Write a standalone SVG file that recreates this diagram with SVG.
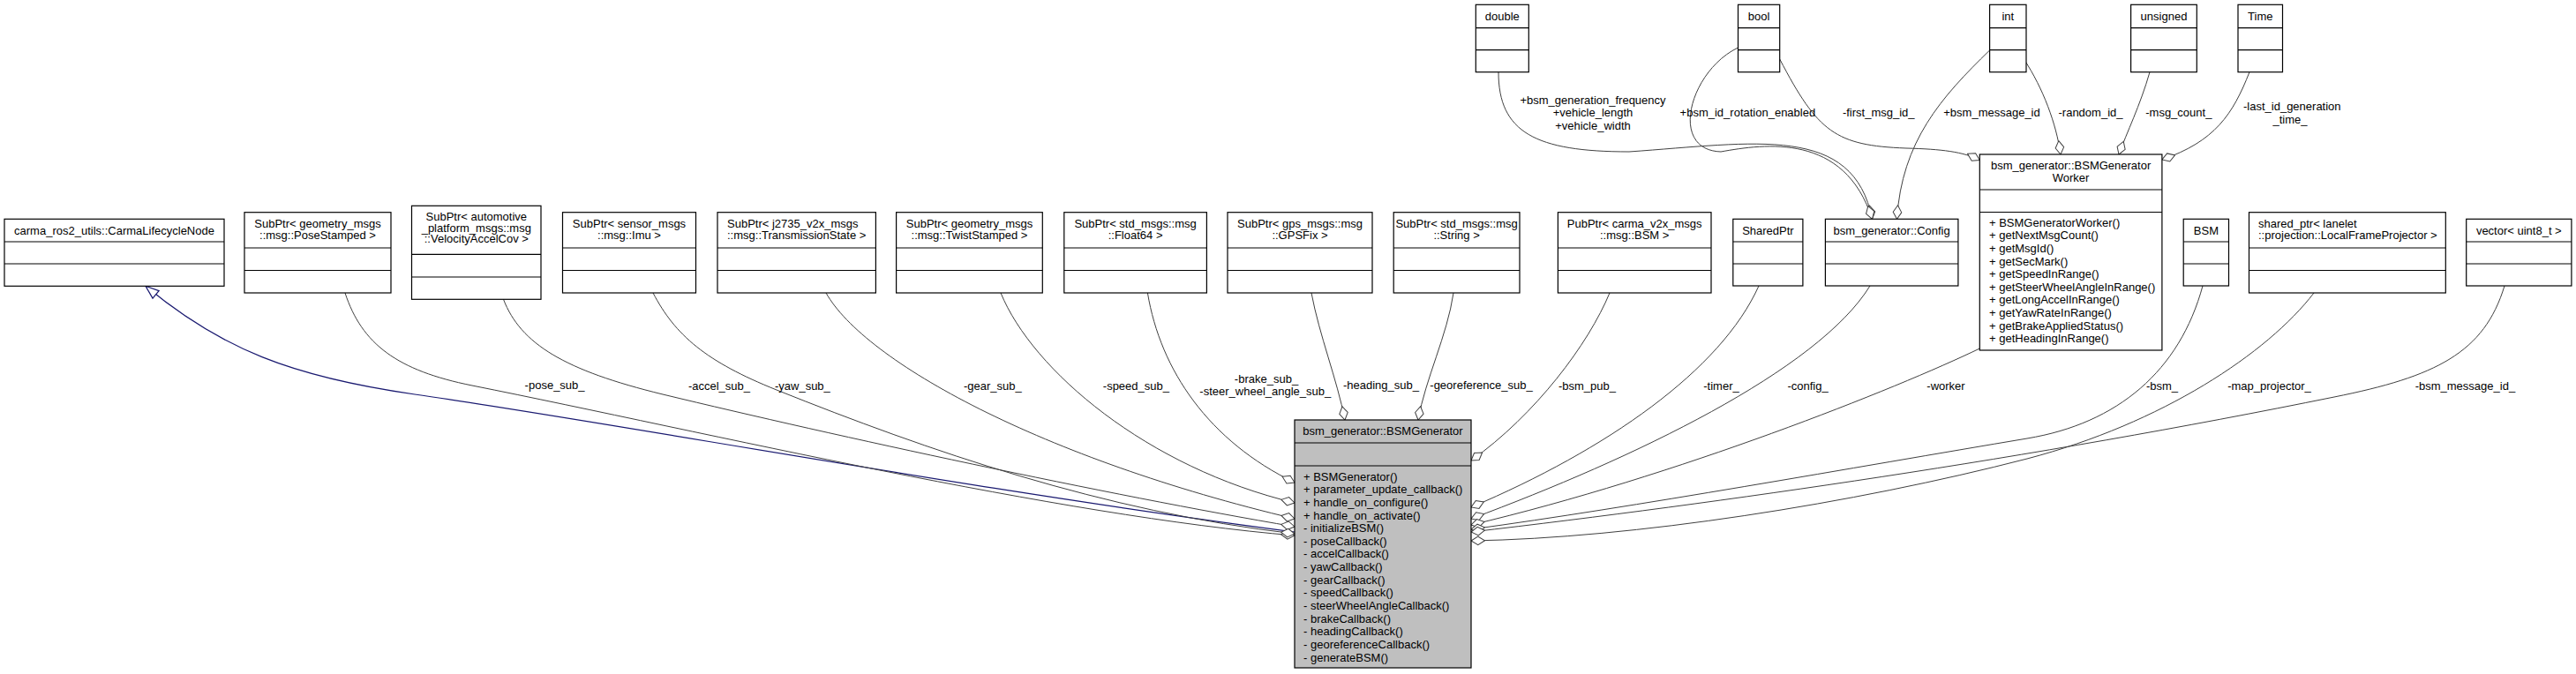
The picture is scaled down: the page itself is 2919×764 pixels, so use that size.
<svg xmlns="http://www.w3.org/2000/svg" width="2919" height="764" viewBox="0 0 2919 764">
<style>
.b{fill:#fff;stroke:#000;stroke-width:1.2}
.m{fill:#bfbfbf;stroke:#000;stroke-width:1.2}
.s{stroke:#000;stroke-width:1.2}
text{font-family:"Liberation Sans",Arial,Helvetica,sans-serif;font-size:13px;fill:#000}
.c{text-anchor:middle}
.e{fill:none;stroke:#404040;stroke-width:1;marker-end:url(#dia)}
.i{fill:none;stroke:#191970;stroke-width:1.2;marker-end:url(#tri)}
</style>
<defs>
<marker id="dia" markerUnits="userSpaceOnUse" markerWidth="18" markerHeight="12" viewBox="0 0 18 12" refX="16.5" refY="6" orient="auto">
<path d="M1,6 L8.75,1.2 L16.5,6 L8.75,10.8 Z" fill="#fff" stroke="#404040" stroke-width="1"/>
</marker>
<marker id="tri" markerUnits="userSpaceOnUse" markerWidth="18" markerHeight="14" viewBox="0 0 18 14" refX="16" refY="7" orient="auto">
<path d="M1,1.5 L16,7 L1,12.5 Z" fill="#fff" stroke="#191970" stroke-width="1.2"/>
</marker>
</defs>
<rect width="2919" height="764" fill="#fff"/>

<g id="connectors">
<path class="i" d="M1467 603 C1100 555,700 480,470 447 C330 427,250 395,165 324.3"/>
<path class="e" d="M391 332 C410 390,450 420,535 437 C800 490,1200 585,1467 607"/>
<path class="e" d="M570.5 339.3 C590 390,640 420,751 447 C950 495,1250 560,1467 597"/>
<path class="e" d="M740 332 C765 380,800 410,880 442 C1050 510,1250 580,1467 605"/>
<path class="e" d="M936 332 C980 410,1180 520,1467 588"/>
<path class="e" d="M1134 332 C1170 420,1300 530,1467 570"/>
<path class="e" d="M1300.4 332 C1315 420,1370 500,1467 547"/>
<path class="e" d="M1486 332 C1495 380,1515 430,1524 476"/>
<path class="e" d="M1647 332 C1640 380,1615 430,1607 476"/>
<path class="e" d="M1824 332 C1800 390,1740 470,1667 522"/>
<path class="e" d="M1993 324 C1950 420,1820 510,1667 575"/>
<path class="e" d="M2119 324 C2060 420,1850 520,1667 588"/>
<path class="e" d="M2243.3 395 C2150 440,1900 540,1667 595"/>
<path class="e" d="M2496 324 C2470 420,2400 480,2297 497 C2100 530,1850 575,1667 600"/>
<path class="e" d="M2622 332 C2570 400,2450 480,2297 520 C2100 571,1850 610,1667 613"/>
<path class="e" d="M2838 324 C2815 400,2760 427,2645 450 C2300 520,1950 570,1667 603"/>
<path class="e" d="M1698 81.7 C1698 150,1740 172,1846 172 C1990 162,2100 140,2121.5 248.3"/>
<path class="e" d="M1969.5 54 C1915 80,1890 170,1950 172 C2000 163,2090 150,2121.5 248.3"/>
<path class="e" d="M2016.7 67 C2060 150,2080 165,2160 168 C2200 169,2225 172,2243.3 181.5"/>
<path class="e" d="M2254.6 57 C2200 110,2155 160,2149.5 248.3"/>
<path class="e" d="M2294 68 C2315 100,2330 140,2335 175"/>
<path class="e" d="M2436 81.7 C2425 120,2410 150,2401 175"/>
<path class="e" d="M2549 81.7 C2530 130,2510 160,2449.9 181"/>
<text x="628.6" y="441.3" class="c">-pose_sub_</text>
<text x="815" y="441.5" class="c">-accel_sub_</text>
<text x="909.4" y="441.5" class="c">-yaw_sub_</text>
<text x="1124.8" y="441.5" class="c">-gear_sub_</text>
<text x="1287.4" y="441.5" class="c">-speed_sub_</text>
<text x="1435" y="433.5" class="c">-brake_sub_</text>
<text x="1433.8" y="447.8" class="c">-steer_wheel_angle_sub_</text>
<text x="1565" y="441.3" class="c">-heading_sub_</text>
<text x="1678.5" y="441.3" class="c">-georeference_sub_</text>
<text x="1798.5" y="441.8" class="c">-bsm_pub_</text>
<text x="1950.5" y="441.8" class="c">-timer_</text>
<text x="2048.5" y="441.8" class="c">-config_</text>
<text x="2205" y="441.8" class="c">-worker</text>
<text x="2450" y="441.8" class="c">-bsm_</text>
<text x="2571.5" y="441.8" class="c">-map_projector_</text>
<text x="2793.4" y="441.8" class="c">-bsm_message_id_</text>
<text x="1805" y="117.8" class="c">+bsm_generation_frequency</text>
<text x="1805" y="132.2" class="c">+vehicle_length</text>
<text x="1805" y="146.8" class="c">+vehicle_width</text>
<text x="1980.4" y="132.2" class="c">+bsm_id_rotation_enabled</text>
<text x="2128.7" y="132.2" class="c">-first_msg_id_</text>
<text x="2257" y="132.2" class="c">+bsm_message_id</text>
<text x="2369" y="132.2" class="c">-random_id_</text>
<text x="2468.8" y="132.2" class="c">-msg_count_</text>
<text x="2597.3" y="124.5" class="c">-last_id_generation</text>
<text x="2595" y="139.5" class="c">_time_</text>
</g>

<g id="main">
<rect class="m" x="1467" y="476" width="200" height="281"/>
<line class="s" x1="1467" y1="502" x2="1667" y2="502"/>
<line class="s" x1="1467" y1="528" x2="1667" y2="528"/>
<text x="1567" y="493" class="c">bsm_generator::BSMGenerator</text>
<text x="1477" y="544.6">+ BSMGenerator()</text>
<text x="1477" y="559.2">+ parameter_update_callback()</text>
<text x="1477" y="573.9">+ handle_on_configure()</text>
<text x="1477" y="588.5">+ handle_on_activate()</text>
<text x="1477" y="603.2">- initializeBSM()</text>
<text x="1477" y="617.8">- poseCallback()</text>
<text x="1477" y="632.4">- accelCallback()</text>
<text x="1477" y="647.1">- yawCallback()</text>
<text x="1477" y="661.7">- gearCallback()</text>
<text x="1477" y="676.4">- speedCallback()</text>
<text x="1477" y="691">- steerWheelAngleCallback()</text>
<text x="1477" y="705.6">- brakeCallback()</text>
<text x="1477" y="720.3">- headingCallback()</text>
<text x="1477" y="734.9">- georeferenceCallback()</text>
<text x="1477" y="749.6">- generateBSM()</text>
</g>

<g id="carma">
<rect class="b" x="5" y="248.3" width="249" height="76"/>
<line class="s" x1="5" y1="274" x2="254" y2="274"/>
<line class="s" x1="5" y1="299" x2="254" y2="299"/>
<text x="129.5" y="265.6" class="c">carma_ros2_utils::CarmaLifecycleNode</text>
</g>

<g id="pose">
<rect class="b" x="277" y="240.7" width="166" height="91.3"/>
<line class="s" x1="277" y1="281" x2="443" y2="281"/>
<line class="s" x1="277" y1="306.5" x2="443" y2="306.5"/>
<text x="360" y="258" class="c">SubPtr&lt; geometry_msgs</text>
<text x="360" y="270.5" class="c">::msg::PoseStamped &gt;</text>
</g>

<g id="velocity">
<rect class="b" x="466.5" y="233.3" width="146.5" height="106"/>
<line class="s" x1="466.5" y1="288.3" x2="613" y2="288.3"/>
<line class="s" x1="466.5" y1="314" x2="613" y2="314"/>
<text x="539.8" y="250.2" class="c">SubPtr&lt; automotive</text>
<text x="539.8" y="262.5" class="c">_platform_msgs::msg</text>
<text x="539.8" y="274.8" class="c">::VelocityAccelCov &gt;</text>
</g>

<g id="imu">
<rect class="b" x="637.5" y="240.7" width="151" height="91.3"/>
<line class="s" x1="637.5" y1="281" x2="788.5" y2="281"/>
<line class="s" x1="637.5" y1="306.5" x2="788.5" y2="306.5"/>
<text x="713" y="258" class="c">SubPtr&lt; sensor_msgs</text>
<text x="713" y="270.5" class="c">::msg::Imu &gt;</text>
</g>

<g id="transmission">
<rect class="b" x="813" y="240.7" width="179.4" height="91.3"/>
<line class="s" x1="813" y1="281" x2="992.4" y2="281"/>
<line class="s" x1="813" y1="306.5" x2="992.4" y2="306.5"/>
<text x="824" y="258">SubPtr&lt; j2735_v2x_msgs</text>
<text x="824" y="270.5">::msg::TransmissionState &gt;</text>
</g>

<g id="twist">
<rect class="b" x="1015.6" y="240.7" width="165.7" height="91.3"/>
<line class="s" x1="1015.6" y1="281" x2="1181.3" y2="281"/>
<line class="s" x1="1015.6" y1="306.5" x2="1181.3" y2="306.5"/>
<text x="1098.5" y="258" class="c">SubPtr&lt; geometry_msgs</text>
<text x="1098.5" y="270.5" class="c">::msg::TwistStamped &gt;</text>
</g>

<g id="float64">
<rect class="b" x="1205.8" y="240.7" width="161.6" height="91.3"/>
<line class="s" x1="1205.8" y1="281" x2="1367.4" y2="281"/>
<line class="s" x1="1205.8" y1="306.5" x2="1367.4" y2="306.5"/>
<text x="1286.6" y="258" class="c">SubPtr&lt; std_msgs::msg</text>
<text x="1286.6" y="270.5" class="c">::Float64 &gt;</text>
</g>

<g id="gpsfix">
<rect class="b" x="1391" y="240.7" width="164" height="91.3"/>
<line class="s" x1="1391" y1="281" x2="1555" y2="281"/>
<line class="s" x1="1391" y1="306.5" x2="1555" y2="306.5"/>
<text x="1473" y="258" class="c">SubPtr&lt; gps_msgs::msg</text>
<text x="1473" y="270.5" class="c">::GPSFix &gt;</text>
</g>

<g id="string">
<rect class="b" x="1579.2" y="240.7" width="142.8" height="91.3"/>
<line class="s" x1="1579.2" y1="281" x2="1722" y2="281"/>
<line class="s" x1="1579.2" y1="306.5" x2="1722" y2="306.5"/>
<text x="1650.6" y="258" class="c">SubPtr&lt; std_msgs::msg</text>
<text x="1650.6" y="270.5" class="c">::String &gt;</text>
</g>

<g id="pubbsm">
<rect class="b" x="1765.4" y="240.7" width="173.6" height="91.3"/>
<line class="s" x1="1765.4" y1="281" x2="1939" y2="281"/>
<line class="s" x1="1765.4" y1="306.5" x2="1939" y2="306.5"/>
<text x="1852.2" y="258" class="c">PubPtr&lt; carma_v2x_msgs</text>
<text x="1852.2" y="270.5" class="c">::msg::BSM &gt;</text>
</g>

<g id="sharedptr">
<rect class="b" x="1963.8" y="248.3" width="79.1" height="75.7"/>
<line class="s" x1="1963.8" y1="274" x2="2042.9" y2="274"/>
<line class="s" x1="1963.8" y1="299" x2="2042.9" y2="299"/>
<text x="2003.4" y="265.6" class="c">SharedPtr</text>
</g>

<g id="config">
<rect class="b" x="2068.4" y="248.3" width="150.5" height="75.7"/>
<line class="s" x1="2068.4" y1="274" x2="2218.9" y2="274"/>
<line class="s" x1="2068.4" y1="299" x2="2218.9" y2="299"/>
<text x="2143.6" y="265.6" class="c">bsm_generator::Config</text>
</g>

<g id="worker">
<rect class="b" x="2243.3" y="175" width="206.6" height="222"/>
<line class="s" x1="2243.3" y1="215" x2="2449.9" y2="215"/>
<line class="s" x1="2243.3" y1="240.5" x2="2449.9" y2="240.5"/>
<text x="2346.6" y="191.5" class="c">bsm_generator::BSMGenerator</text>
<text x="2346.6" y="206.2" class="c">Worker</text>
<text x="2254" y="256.8">+ BSMGeneratorWorker()</text>
<text x="2254" y="271.4">+ getNextMsgCount()</text>
<text x="2254" y="286">+ getMsgId()</text>
<text x="2254" y="300.6">+ getSecMark()</text>
<text x="2254" y="315.2">+ getSpeedInRange()</text>
<text x="2254" y="329.8">+ getSteerWheelAngleInRange()</text>
<text x="2254" y="344.4">+ getLongAccelInRange()</text>
<text x="2254" y="359">+ getYawRateInRange()</text>
<text x="2254" y="373.6">+ getBrakeAppliedStatus()</text>
<text x="2254" y="388.2">+ getHeadingInRange()</text>
</g>

<g id="bsm">
<rect class="b" x="2474.2" y="248.3" width="51.3" height="75.7"/>
<line class="s" x1="2474.2" y1="274" x2="2525.5" y2="274"/>
<line class="s" x1="2474.2" y1="299" x2="2525.5" y2="299"/>
<text x="2499.9" y="265.6" class="c">BSM</text>
</g>

<g id="lanelet">
<rect class="b" x="2548.5" y="240.7" width="222.8" height="91.3"/>
<line class="s" x1="2548.5" y1="281" x2="2771.3" y2="281"/>
<line class="s" x1="2548.5" y1="306.5" x2="2771.3" y2="306.5"/>
<text x="2559" y="258">shared_ptr&lt; lanelet</text>
<text x="2559" y="270.5">::projection::LocalFrameProjector &gt;</text>
</g>

<g id="vector">
<rect class="b" x="2794.7" y="248.3" width="119.2" height="75.7"/>
<line class="s" x1="2794.7" y1="274" x2="2913.9" y2="274"/>
<line class="s" x1="2794.7" y1="299" x2="2913.9" y2="299"/>
<text x="2854.3" y="265.6" class="c">vector&lt; uint8_t &gt;</text>
</g>

<g id="double">
<rect class="b" x="1672.3" y="5.3" width="60" height="76.4"/>
<line class="s" x1="1672.3" y1="31.7" x2="1732.3" y2="31.7"/>
<line class="s" x1="1672.3" y1="56.7" x2="1732.3" y2="56.7"/>
<text x="1702.3" y="22.5" class="c">double</text>
</g>

<g id="bool">
<rect class="b" x="1969.5" y="5.3" width="47.2" height="76.4"/>
<line class="s" x1="1969.5" y1="31.7" x2="2016.7" y2="31.7"/>
<line class="s" x1="1969.5" y1="56.7" x2="2016.7" y2="56.7"/>
<text x="1993.1" y="22.5" class="c">bool</text>
</g>

<g id="int">
<rect class="b" x="2254.6" y="5.3" width="41.4" height="76.4"/>
<line class="s" x1="2254.6" y1="31.7" x2="2296" y2="31.7"/>
<line class="s" x1="2254.6" y1="56.7" x2="2296" y2="56.7"/>
<text x="2275.3" y="22.5" class="c">int</text>
</g>

<g id="unsigned">
<rect class="b" x="2414.6" y="5.3" width="74.7" height="76.4"/>
<line class="s" x1="2414.6" y1="31.7" x2="2489.3" y2="31.7"/>
<line class="s" x1="2414.6" y1="56.7" x2="2489.3" y2="56.7"/>
<text x="2452" y="22.5" class="c">unsigned</text>
</g>

<g id="time">
<rect class="b" x="2536" y="5.3" width="50.5" height="76.4"/>
<line class="s" x1="2536" y1="31.7" x2="2586.5" y2="31.7"/>
<line class="s" x1="2536" y1="56.7" x2="2586.5" y2="56.7"/>
<text x="2561.3" y="22.5" class="c">Time</text>
</g>
</svg>
